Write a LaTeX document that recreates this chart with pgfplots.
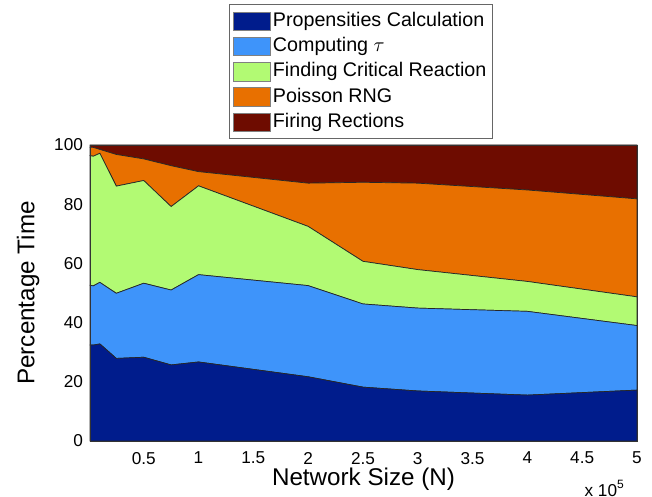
\documentclass[border=0pt]{standalone}
\usepackage{pgfplots}
\pgfplotsset{compat=1.18}
\usepackage{pgfplotstable}
\usepackage{fontspec}
\setmainfont{Liberation Sans}
\definecolor{cProp}{RGB}{0,28,140}
\definecolor{cTau}{RGB}{62,148,250}
\definecolor{cCrit}{RGB}{178,250,115}
\definecolor{cPois}{RGB}{232,112,0}
\definecolor{cFire}{RGB}{110,12,0}
\pgfplotstableread{
x     prop  tau   crit  pois  fire
0.01  32.4  20.2  43.8  2.8   0.8
0.04  32.4  20.0  43.8  3.0   0.8
0.10  32.8  20.8  43.6  1.3   1.5
0.25  27.9  22.0  36.2  10.7  3.2
0.50  28.3  25.0  34.7  7.3   4.7
0.75  25.7  25.3  28.2  13.8  7.0
1.00  26.7  29.5  30.0  4.8   9.0
2.00  21.7  30.8  20.0  14.6  12.9
2.50  18.2  28.1  14.4  26.7  12.6
3.00  16.9  28.0  13.0  29.2  12.9
4.00  15.5  28.3  10.1  30.9  15.2
5.00  17.2  21.8  9.7   33.1  18.2
}\datatable
\begin{document}
\begin{tikzpicture}
\useasboundingbox (-45pt,-28pt) rectangle (281pt,220.5pt);
\begin{axis}[
  scale only axis,
  width=273.5pt, height=148pt,
  xmin=0.01, xmax=5, ymin=0, ymax=100,
  xtick={0.5,1,...,5},
  ytick={0,20,...,100},
  major tick length=0pt,
  stack plots=y,
  axis on top,
  clip=false,
  axis line style={black!80, line width=0.4pt},
  /pgf/number format/assume math mode=true,
  ticklabel style={font=\fontsize{8.6}{10}\selectfont},
  xticklabel style={yshift=-2pt},
  yticklabel style={xshift=0pt},
  xlabel={Network Size (N)},
  ylabel={Percentage Time},
  label style={font=\fontsize{12.1}{14}\selectfont},
  xlabel style={at={(axis description cs:0.5,-0.13)}, anchor=center},
  ylabel style={at={(axis description cs:-0.113,0.5)}, anchor=center, rotate=0},
  legend cell align=left,
  legend style={
    at={(0.254,1.475)}, anchor=north west,
    font=\fontsize{9.85}{12}\selectfont,
    draw=black!60, line width=0.4pt,
    inner xsep=2pt, inner ysep=2.5pt,
    row sep=1pt,
    nodes={inner sep=1pt, text height=7.4pt, text depth=2.2pt},
  },
  legend image code/.code={\draw[#1, draw=black!50, line width=0.3pt] (0pt,-4.6pt) rectangle (18.5pt,4.6pt);},
]
\addplot[fill=cProp, draw=black!85, line width=0.35pt] table[x=x, y=prop] {\datatable} \closedcycle;
\addlegendentry{Propensities Calculation}
\addplot[fill=cTau, draw=black!85, line width=0.35pt] table[x=x, y=tau] {\datatable} \closedcycle;
\addlegendentry{Computing $\tau$}
\addplot[fill=cCrit, draw=black!85, line width=0.35pt] table[x=x, y=crit] {\datatable} \closedcycle;
\addlegendentry{Finding Critical Reaction}
\addplot[fill=cPois, draw=black!85, line width=0.35pt] table[x=x, y=pois] {\datatable} \closedcycle;
\addlegendentry{Poisson RNG}
\addplot[fill=cFire, draw=black!85, line width=0.35pt] table[x=x, y=fire] {\datatable} \closedcycle;
\addlegendentry{Firing Rections}
\node[font=\fontsize{8.6}{10}\selectfont, anchor=center] at (axis description cs:0.941,-0.16) {x 10\textsuperscript{5}};
\end{axis}
\end{tikzpicture}
\end{document}
